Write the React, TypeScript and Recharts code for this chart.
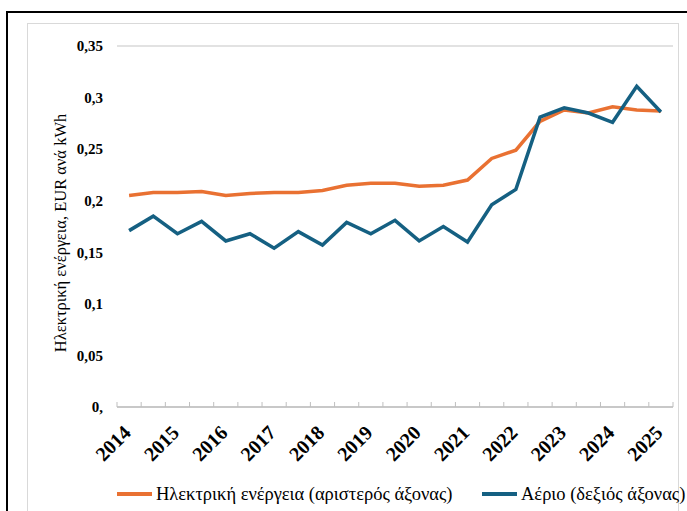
import { LineChart, Line, XAxis, YAxis, CartesianGrid } from "recharts";

const periods = [
  "2014-S1", "2014-S2", "2015-S1", "2015-S2", "2016-S1", "2016-S2",
  "2017-S1", "2017-S2", "2018-S1", "2018-S2", "2019-S1", "2019-S2",
  "2020-S1", "2020-S2", "2021-S1", "2021-S2", "2022-S1", "2022-S2",
  "2023-S1", "2023-S2", "2024-S1", "2024-S2", "2025-S1",
];

const yearLabels = [
  "2014", "2015", "2016", "2017", "2018", "2019",
  "2020", "2021", "2022", "2023", "2024", "2025",
];

// ηλεκτρική ενέργεια, αριστερός άξονας
const electricity = [
  0.205, 0.208, 0.208, 0.209, 0.205, 0.207, 0.208, 0.208, 0.21, 0.215, 0.217,
  0.217, 0.214, 0.215, 0.22, 0.241, 0.249, 0.277, 0.288, 0.285, 0.291, 0.288,
  0.287,
];

// αέριο, δεξιός άξονας (διαβασμένο στην κλίμακα του αριστερού)
const gas = [
  0.171, 0.185, 0.168, 0.18, 0.161, 0.168, 0.154, 0.17, 0.157, 0.179, 0.168,
  0.181, 0.161, 0.175, 0.16, 0.196, 0.211, 0.281, 0.29, 0.285, 0.276, 0.311,
  0.286,
];

const yTicks = [0, 0.05, 0.1, 0.15, 0.2, 0.25, 0.3, 0.35];
const yTickLabels = ["0,", "0,05", "0,1", "0,15", "0,2", "0,25", "0,3", "0,35"];

const yTitle = "Ηλεκτρική ενέργεια, EUR ανά kWh";
const elecName = "Ηλεκτρική ενέργεια (αριστερός άξονας)";
const gasName = "Αέριο (δεξιός άξονας)";

const ORANGE = "#E97132";
const BLUE = "#156082";
const FONT = "'Liberation Serif', 'DejaVu Serif', serif";

const boundaries = periods.map((_, i) => i).concat([periods.length]);

const data = periods.map((p, i) => ({
  period: p,
  x: i + 0.5,
  electricity: electricity[i],
  gas: gas[i],
}));

const W = 687;
const H = 511;
const margin = { top: 46, right: 14, left: 57, bottom: 44 };
const plotW = W - margin.left - 60 - margin.right;
const halfStep = plotW / periods.length / 2;

const XTick = (props: any) => {
  const { x, y, payload } = props;
  const k = payload.value;
  const showLabel = k % 2 === 0 && k / 2 < yearLabels.length;
  const lx = x + halfStep + 3;
  const ly = y + 27;
  return (
    <g>
      <line x1={x} y1={y} x2={x} y2={y - 5} stroke="#BFBFBF" strokeWidth={1} />
      {showLabel && (
        <text
          x={lx}
          y={ly}
          textAnchor="end"
          transform={`rotate(-45, ${lx}, ${ly})`}
          fontFamily={FONT}
          fontWeight="bold"
          fontSize={20}
          fill="#000"
        >
          {yearLabels[k / 2]}
        </text>
      )}
    </g>
  );
};

const LegendItem = ({ color, name, left }: { color: string; name: string; left: number }) => (
  <div style={{ position: "absolute", left, top: 481, display: "flex", alignItems: "center", whiteSpace: "nowrap" }}>
    <div style={{ width: 35, height: 3.5, background: color, marginRight: 4 }} />
    <span style={{ fontFamily: FONT, fontSize: 18.5, color: "#000", lineHeight: "26px" }}>{name}</span>
  </div>
);

export default function App() {
  return (
    <div
      style={{
        position: "absolute",
        left: 0,
        top: 0,
        width: W,
        height: H,
        overflow: "hidden",
        background: "#fff",
      }}
    >
      <div
        style={{
          position: "absolute",
          left: 6,
          top: 11,
          width: 760,
          height: 560,
          border: "2px solid #000",
        }}
      />
      <div
        style={{
          position: "absolute",
          left: 27,
          top: 23,
          width: 650,
          height: 600,
          border: "1px solid #D9D9D9",
        }}
      />
      <div
        style={{
          position: "absolute",
          left: 61,
          top: 233,
          transform: "translate(-50%, -50%) rotate(-90deg)",
          whiteSpace: "nowrap",
          fontFamily: FONT,
          fontSize: 16.5,
          color: "#000",
        }}
      >
        {yTitle}
      </div>
      <div style={{ position: "absolute", left: 0, top: 0 }}>
        <LineChart width={W} height={H} data={data} margin={margin}>
          <CartesianGrid vertical={false} stroke="#D9D9D9" strokeWidth={1.3} />
          <XAxis
            dataKey="x"
            type="number"
            domain={[0, periods.length]}
            ticks={boundaries}
            interval={0}
            height={60}
            tickSize={0}
            tickMargin={0}
            tickLine={false}
            axisLine={{ stroke: "#BFBFBF", strokeWidth: 1.3 }}
            tick={XTick}
          />
          <YAxis
            yAxisId="left"
            domain={[0, 0.35]}
            ticks={yTicks}
            width={60}
            axisLine={false}
            tickLine={false}
            tickSize={0}
            tickMargin={14}
            tickFormatter={(v: number) => yTickLabels[yTicks.indexOf(v)] ?? String(v)}
            tick={{ fontFamily: FONT, fontWeight: "bold", fontSize: 15, fill: "#000" }}
          />
          <YAxis yAxisId="right" orientation="right" domain={[0, 0.35]} hide />
          <Line
            yAxisId="left"
            type="linear"
            dataKey="electricity"
            name={elecName}
            stroke={ORANGE}
            strokeWidth={3.5}
            dot={false}
            isAnimationActive={false}
          />
          <Line
            yAxisId="right"
            type="linear"
            dataKey="gas"
            name={gasName}
            stroke={BLUE}
            strokeWidth={3.5}
            dot={false}
            isAnimationActive={false}
          />
        </LineChart>
      </div>
      <LegendItem color={ORANGE} name={elecName} left={117} />
      <LegendItem color={BLUE} name={gasName} left={482} />
    </div>
  );
}
